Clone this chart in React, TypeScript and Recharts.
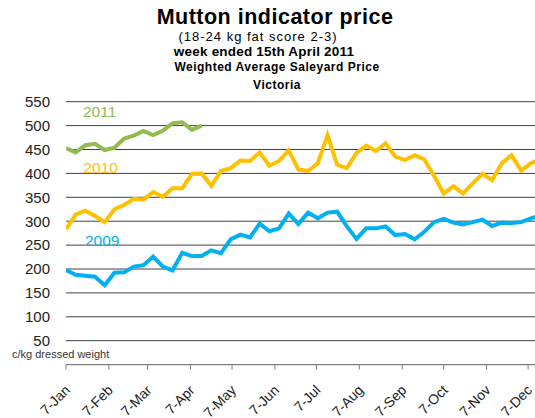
import React from 'react';
import { LineChart, Line, XAxis, YAxis, CartesianGrid } from 'recharts';

// Week offsets (days after 7 Jan) shared by every year
const weekDays = [
  0, 7, 14, 21, 28, 35, 42, 49, 56, 63, 70, 77, 84, 91, 98, 105, 112, 119, 126, 133,
  140, 147, 154, 161, 168, 175, 182, 189, 196, 203, 210, 217, 224, 231, 238, 245, 252,
  259, 266, 273, 280, 287, 294, 301, 308, 315, 322, 329, 336, 343,
];

const prices2009 = [
  198, 188, 186, 184, 166, 192, 193, 205, 208, 226, 205, 197, 234, 227, 227, 239, 233,
  262, 272, 266, 295, 279, 285, 316, 294, 318, 306, 318, 320, 289, 263, 285, 285, 289,
  271, 273, 262, 278, 298, 305, 297, 293, 298, 303, 290, 297, 296, 298, 306, 312,
];

const prices2010 = [
  283, 314, 322, 311, 298, 325, 334, 347, 345, 361, 351, 369, 369, 399, 400, 374, 405,
  411, 427, 426, 444, 416, 426, 448, 408, 405, 421, 480, 418, 411, 443, 458, 447, 463,
  435, 428, 438, 429, 395, 358, 373, 358, 379, 399, 386, 421, 438, 406, 421, 430,
];

const prices2011 = [453, 444, 459, 462, 449, 454, 473, 479, 489, 480, 489, 505, 507, 491, 500];

const monthTickDays = [0, 31, 59, 90, 120, 151, 181, 212, 243, 273, 304, 334];
const monthTickLabels = [
  '7-Jan', '7-Feb', '7-Mar', '7-Apr', '7-May', '7-Jun',
  '7-Jul', '7-Aug', '7-Sep', '7-Oct', '7-Nov', '7-Dec',
];
const yTicks = [50, 100, 150, 200, 250, 300, 350, 400, 450, 500, 550];
const seriesNames = ['2009', '2010', '2011'];

const titleLines = [
  'Mutton indicator price',
  '(18-24 kg fat score 2-3)',
  'week ended 15th April 2011',
  'Weighted Average Saleyard Price',
  'Victoria',
];
const unitLabel = 'c/kg dressed weight';

const COLORS = { y2009: '#00B0F0', y2010: '#FFC000', y2011: '#92BC52' };
const FONT = '"Liberation Sans", Arial, sans-serif';

const data = weekDays.map((day, i) => ({
  day,
  y2009: prices2009[i],
  y2010: prices2010[i],
  y2011: prices2011[i],
}));

const XTick = (props: any) => {
  const { x, y, payload } = props;
  const idx = monthTickDays.indexOf(payload.value);
  const label = idx >= 0 ? monthTickLabels[idx] : '';
  const tx = x + 5;
  const ty = y + 19.5;
  return (
    <text
      x={tx}
      y={ty}
      transform={`rotate(-45 ${tx} ${ty})`}
      textAnchor="end"
      fontSize={14}
      fontFamily={FONT}
      fill="#222"
    >
      {label}
    </text>
  );
};

export default function App() {
  return (
    <div style={{ position: 'absolute', left: 0, top: 0, width: 535, height: 418, background: '#fff' }}>
      <LineChart
        width={535}
        height={418}
        data={data}
        margin={{ top: 101.7, right: 0, bottom: 0, left: 0 }}
      >
        <CartesianGrid vertical={false} stroke="#404040" strokeWidth={1} />
        <XAxis
          dataKey="day"
          type="number"
          domain={[0, 339]}
          allowDataOverflow
          ticks={monthTickDays}
          interval={0}
          height={53.4}
          stroke="#808080"
          tickSize={5}
          tickMargin={2}
          tick={<XTick />}
        />
        <YAxis
          type="number"
          domain={[0, 550]}
          ticks={yTicks}
          interval={0}
          width={66}
          axisLine={false}
          tickLine={false}
          tickSize={0}
          tickMargin={16}
          tick={{ fontSize: 15, fill: '#222', fontFamily: FONT }}
        />
        <Line dataKey="y2009" name={seriesNames[0]} stroke={COLORS.y2009} strokeWidth={4} dot={false} isAnimationActive={false} />
        <Line dataKey="y2010" name={seriesNames[1]} stroke={COLORS.y2010} strokeWidth={4} dot={false} isAnimationActive={false} />
        <Line dataKey="y2011" name={seriesNames[2]} stroke={COLORS.y2011} strokeWidth={4} dot={false} isAnimationActive={false} />
      </LineChart>
      <svg
        width={535}
        height={418}
        style={{ position: 'absolute', left: 0, top: 0, pointerEvents: 'none' }}
        fontFamily={FONT}
      >
        <text x={275} y={24} textAnchor="middle" fontSize={21.5} fontWeight="bold" fill="#000" letterSpacing={0.5}>
          {titleLines[0]}
        </text>
        <text x={258} y={41} textAnchor="middle" fontSize={13} fill="#000" letterSpacing={1}>
          {titleLines[1]}
        </text>
        <text x={264} y={56} textAnchor="middle" fontSize={13.5} fontWeight="bold" fill="#000" letterSpacing={0.2}>
          {titleLines[2]}
        </text>
        <text x={277} y={71} textAnchor="middle" fontSize={12} fontWeight="bold" fill="#000" letterSpacing={0.5}>
          {titleLines[3]}
        </text>
        <text x={277} y={88.5} textAnchor="middle" fontSize={12} fontWeight="bold" fill="#000" letterSpacing={0.5}>
          {titleLines[4]}
        </text>
        <text x={12} y={358} fontSize={11} fill="#333">
          {unitLabel}
        </text>
        <text x={83} y={117} fontSize={15.5} fill={COLORS.y2011}>
          {seriesNames[2]}
        </text>
        <text x={83.5} y={173} fontSize={15.5} fill={COLORS.y2010}>
          {seriesNames[1]}
        </text>
        <text x={85} y={245.5} fontSize={15.5} fill={COLORS.y2009}>
          {seriesNames[0]}
        </text>
      </svg>
    </div>
  );
}
